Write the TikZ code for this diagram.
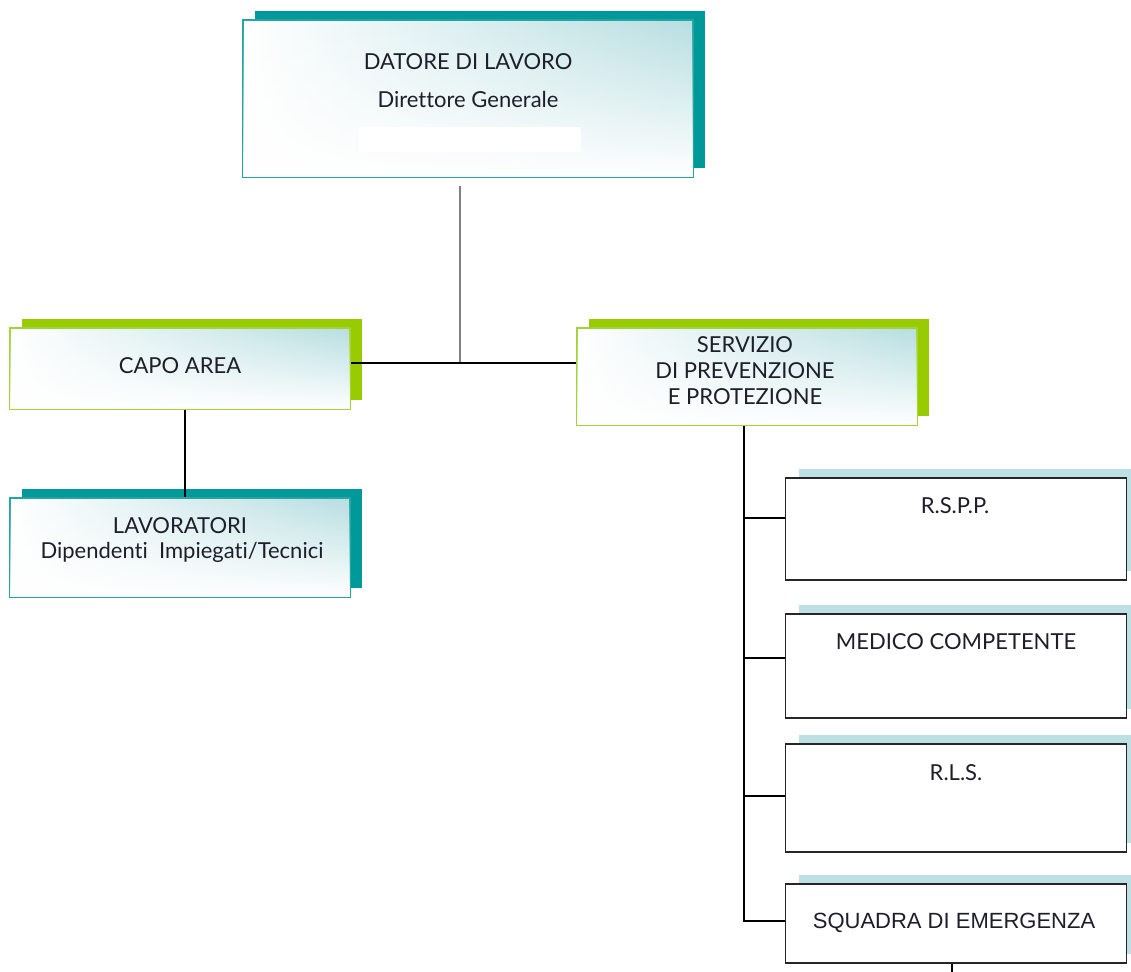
\documentclass[tikz,border=0pt]{standalone}
\usepackage{fontspec}
\setmainfont{Lato}[Ligatures={NoCommon}]
\newfontfamily\arialf{Liberation Sans}
\usetikzlibrary{shadows,fadings,calc}
\definecolor{tealD}{HTML}{009999}
\definecolor{tealB}{HTML}{26A4A4}
\definecolor{limeD}{HTML}{99CC00}
\definecolor{limeB}{HTML}{A2D43A}
\definecolor{lteal}{HTML}{B7DEE1}
\definecolor{ltealS}{HTML}{BCE0E3}
\definecolor{textC}{HTML}{1E1E2A}
\tikzfading[name=fadeup, top color=transparent!100, bottom color=transparent!0]
\tikzset{
  gradbox/.style={inner sep=0, left color=white, right color=lteal,
    postaction={fill=white, path fading=fadeup}},
  tealbox/.style={gradbox, draw=tealB, line width=1.6pt,
    general shadow={fill=tealD, shadow xshift=12pt, shadow yshift=9pt}},
  limebox/.style={gradbox, draw=limeB, line width=1.6pt,
    general shadow={fill=limeD, shadow xshift=12pt, shadow yshift=9pt}},
  rbox/.style={inner sep=0, fill=white, draw=black!85, line width=1.8pt,
    general shadow={fill=ltealS, shadow xshift=13pt, shadow yshift=9pt}},
  txt/.style={inner sep=0, anchor=base, text=textC, font=\fontsize{22}{26}\selectfont},
  atxt/.style={inner sep=0, anchor=base, text=textC, font=\arialf\fontsize{22}{26}\selectfont},
  conn/.style={draw=black, line width=1.6pt},
  gconn/.style={draw=black!50, line width=2pt}
}
\begin{document}
\begin{tikzpicture}[x=1pt,y=-1pt]
\useasboundingbox (0,0) rectangle (1131,971);
% boxes
\node[tealbox, minimum width=450, minimum height=157] (dat) at (468,98.5) {};
\node[inner sep=0, fill=white, minimum width=222, minimum height=25] (blank) at (470,139.5) {};
\node[limebox, minimum width=340, minimum height=81] (capo) at (180,368.5) {};
\node[tealbox, minimum width=340, minimum height=99] (lav) at (180,547.5) {};
\node[limebox, minimum width=340, minimum height=97] (serv) at (747,376.5) {};
\node[rbox, minimum width=341, minimum height=102] (rspp) at (956,529) {};
\node[rbox, minimum width=341, minimum height=104] (med) at (956,666) {};
\node[rbox, minimum width=341, minimum height=108] (rls) at (956,798) {};
\node[rbox, minimum width=341, minimum height=79] (sq) at (956,923.5) {};
% texts
\node[txt] (t1) at (468,70) {DATORE DI LAVORO};
\node[txt] (t2) at (468,108) {Direttore Generale};
\node[txt] (t3) at (180,373) {CAPO AREA};
\node[txt] (t4) at (180,533) {LAVORATORI};
\node[txt] (t5) at (182,558) {Dipendenti\ \ Impiegati/Tecnici};
\node[txt] (t6) at (745,352) {SERVIZIO};
\node[txt] (t7) at (745,378) {DI PREVENZIONE};
\node[txt] (t8) at (745,404) {E PROTEZIONE};
\node[txt] (t9) at (955,513) {R.S.P.P.};
\node[txt] (t10) at (956,649) {MEDICO COMPETENTE};
\node[txt] (t11) at (956,780) {R.L.S.};
\node[atxt] (t12) at (954,928) {SQUADRA DI EMERGENZA};
% connectors
\coordinate (dtop) at ($(dat.south)+(-8,8)$);
\coordinate (j) at (460,363);
\draw[gconn] (dtop) -- (j);
\draw[conn] (capo.east |- j) -- (serv.west |- j);
\draw[conn] ([xshift=5pt]capo.south) -- ([xshift=5pt]lav.north);
\coordinate (trk) at ([xshift=-3pt]serv.south);
\coordinate (b1) at ([yshift=11pt]rspp.west);
\coordinate (b2) at ([yshift=8pt]med.west);
\coordinate (b3) at ([yshift=2pt]rls.west);
\coordinate (b4) at ([yshift=2.5pt]sq.west);
\draw[conn] (trk) |- (b4);
\draw[conn] (trk |- b1) -- (b1);
\draw[conn] (trk |- b2) -- (b2);
\draw[conn] (trk |- b3) -- (b3);
\coordinate (sqend) at (952,975);
\draw[conn] (sq.south -| sqend) -- (sqend);
\end{tikzpicture}
\end{document}
